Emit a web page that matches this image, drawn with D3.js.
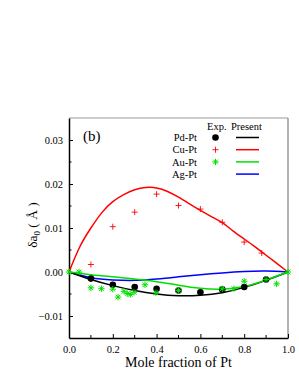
<!DOCTYPE html>
<html>
<head>
<meta charset="utf-8">
<title>delta a0 vs mole fraction of Pt</title>
<script src="https://cdn.jsdelivr.net/npm/d3@7"></script>
<style>
  body { margin: 0; background: #fff; }
  text { font-family: "Liberation Serif", "Times New Roman", serif; }
</style>
</head>
<body>
<script>
// x positions sampled along the calculated curves
var curveX = [0, 0.1, 0.2, 0.3, 0.4, 0.5, 0.6, 0.7, 0.8, 0.9, 1.0];
var pdPresent = [0, -0.0017, -0.0031, -0.0042, -0.0050, -0.0054, -0.0053, -0.0047, -0.0035, -0.0019, 0];
var auPresent = [0, -0.0006, -0.0011, -0.0016, -0.0022, -0.0030, -0.0037, -0.0039, -0.0033, -0.0018, 0];
var agPresent = [0, -0.0013, -0.0018, -0.0019, -0.0016, -0.0011, -0.0006, -0.0002, 0.0001, 0.0002, 0];
var cuX = [0, 0.05, 0.1, 0.15, 0.2, 0.25, 0.3, 0.35, 0.4, 0.45, 0.5, 0.55, 0.6, 0.65, 0.7, 0.75, 0.8, 0.85, 0.9, 0.95, 1.0];
var cuPresent = [0, 0.0058, 0.0100, 0.0135, 0.0160, 0.0176, 0.0187, 0.0192, 0.0191, 0.0183, 0.0170, 0.0155, 0.0140, 0.0126, 0.0112, 0.0093, 0.0075, 0.0057, 0.0038, 0.0019, 0];

// experimental points
var pdExpX = [0.1, 0.2, 0.3, 0.4, 0.5, 0.6, 0.7, 0.8, 0.9];
var pdExpY = [-0.0015, -0.0029, -0.0034, -0.0038, -0.0042, -0.0046, -0.0040, -0.0034, -0.0017];
var cuExpX = [0.1, 0.2, 0.3, 0.4, 0.5, 0.6, 0.7, 0.8, 0.88];
var cuExpY = [0.0017, 0.0103, 0.0136, 0.0177, 0.0151, 0.0143, 0.0113, 0.0068, 0.0043];
var auExpX = [0, 0.046, 0.1, 0.148, 0.2, 0.224, 0.251, 0.266, 0.28, 0.297, 0.347, 0.397, 0.5, 0.7, 0.753, 0.8, 0.9, 0.948, 1.0];
var auExpY = [0, 0, -0.0036, -0.0038, -0.0039, -0.0057, -0.0044, -0.0049, -0.0051, -0.0046, -0.0029, -0.0047, -0.0042, -0.0038, -0.0038, -0.0021, -0.0017, -0.0027, 0];

var xTicks = [0, 0.2, 0.4, 0.6, 0.8, 1.0];
var yTicks = [-0.01, 0, 0.01, 0.02, 0.03];
var seriesNames = ["Pd-Pt", "Cu-Pt", "Au-Pt", "Ag-Pt"];
var seriesColors = ["#000000", "#ff0000", "#00e000", "#0000ff"];

var W = 299, H = 387;
var m = { left: 69, right: 11, top: 118, bottom: 49 };
var serif = "Liberation Serif, Times New Roman, serif";

var svg = d3.select("body").append("svg")
    .attr("width", W)
    .attr("height", H)
    .attr("font-family", serif);

var x = d3.scaleLinear().domain([0, 1]).range([m.left, W - m.right]);
var y = d3.scaleLinear().domain([-0.015, 0.035]).range([H - m.bottom, m.top]);

// frame: top/right grey, left/bottom black
svg.append("line").attr("x1", x(0)).attr("x2", x(1)).attr("y1", y(0.035)).attr("y2", y(0.035))
    .attr("stroke", "#999").attr("stroke-width", 1);
svg.append("line").attr("x1", x(1)).attr("x2", x(1)).attr("y1", y(0.035)).attr("y2", y(-0.015))
    .attr("stroke", "#999").attr("stroke-width", 1.5);

// minor ticks
var g = svg.append("g");
g.selectAll(".xminor").data(d3.range(0.1, 1, 0.2)).enter().append("line")
    .attr("x1", function (d) { return x(d); }).attr("x2", function (d) { return x(d); })
    .attr("y1", y(-0.015)).attr("y2", y(-0.015) - 3)
    .attr("stroke", "#000");
g.selectAll(".yminor").data([-0.005, 0.005, 0.015, 0.025]).enter().append("line")
    .attr("x1", x(0)).attr("x2", x(0) + 2.5)
    .attr("y1", function (d) { return y(d); }).attr("y2", function (d) { return y(d); })
    .attr("stroke", "#000");

var xAxis = d3.axisBottom(x).tickValues(xTicks).tickSizeInner(-4).tickSizeOuter(0).tickPadding(8)
    .tickFormat(d3.format(".1f"));
var yAxis = d3.axisLeft(y).tickValues(yTicks).tickSizeInner(-4).tickSizeOuter(0).tickPadding(6)
    .tickFormat(d3.format(".2f"));

var gx = svg.append("g").attr("transform", "translate(0," + y(-0.015) + ")").call(xAxis);
var gy = svg.append("g").attr("transform", "translate(" + x(0) + ",0)").call(yAxis);
[gx, gy].forEach(function (ax) {
    ax.attr("font-family", serif);
    ax.select(".domain").attr("stroke", "#000").attr("stroke-width", 1.5);
    ax.selectAll("text").attr("font-size", 10.5).attr("fill", "#000");
});
gy.selectAll(".tick text").text(function (d) { return d === 0 ? "0.00" : d3.format(".2f")(d); });

// calculated curves
var line = d3.line()
    .x(function (d) { return x(d[0]); })
    .y(function (d) { return y(d[1]); })
    .curve(d3.curveNatural);

var curves = [
    { xs: curveX, ys: agPresent, c: seriesColors[3] },
    { xs: curveX, ys: pdPresent, c: seriesColors[0] },
    { xs: curveX, ys: auPresent, c: seriesColors[2] },
    { xs: cuX, ys: cuPresent, c: seriesColors[1] }
];
curves.forEach(function (s) {
    svg.append("path")
        .datum(d3.zip(s.xs, s.ys))
        .attr("d", line)
        .attr("fill", "none")
        .attr("stroke", s.c)
        .attr("stroke-width", 1.5);
});

// markers
function starPath(r) {
    var d = r * 0.72;
    return "M" + (-r) + ",0H" + r + "M0," + (-r) + "V" + r +
        "M" + (-d) + "," + (-d) + "L" + d + "," + d + "M" + (-d) + "," + d + "L" + d + "," + (-d);
}
function plusPath(r) {
    return "M" + (-r) + ",0H" + r + "M0," + (-r) + "V" + r;
}

svg.selectAll(".pd").data(d3.zip(pdExpX, pdExpY)).enter().append("circle")
    .attr("cx", function (d) { return x(d[0]); })
    .attr("cy", function (d) { return y(d[1]); })
    .attr("r", 3.3).attr("fill", "#000");

svg.selectAll(".au").data(d3.zip(auExpX, auExpY)).enter().append("path")
    .attr("transform", function (d) { return "translate(" + x(d[0]) + "," + y(d[1]) + ")"; })
    .attr("d", starPath(3.2))
    .attr("stroke", seriesColors[2]).attr("stroke-width", 1).attr("fill", "none");

svg.selectAll(".cu").data(d3.zip(cuExpX, cuExpY)).enter().append("path")
    .attr("transform", function (d) { return "translate(" + x(d[0]) + "," + y(d[1]) + ")"; })
    .attr("d", plusPath(3))
    .attr("stroke", seriesColors[1]).attr("stroke-width", 0.9).attr("fill", "none");

// panel label
svg.append("text").attr("x", 83).attr("y", 141).attr("font-size", 15).text("(b)");

// legend
var lg = svg.append("g").attr("font-size", 10.5);
lg.append("text").attr("x", 207).attr("y", 130).text("Exp.");
lg.append("text").attr("x", 231).attr("y", 130).text("Present");
seriesNames.forEach(function (n, i) {
    var yy = 137.5 + i * 12.2;
    lg.append("text").attr("x", 197).attr("y", yy + 3.6).attr("text-anchor", "end").text(n);
    lg.append("line").attr("x1", 236).attr("x2", 259).attr("y1", yy).attr("y2", yy)
        .attr("stroke", seriesColors[i]).attr("stroke-width", 1.5);
});
lg.append("circle").attr("cx", 215.5).attr("cy", 137.5).attr("r", 3.3).attr("fill", "#000");
lg.append("path").attr("transform", "translate(215.5," + (137.5 + 12.2) + ")").attr("d", plusPath(3))
    .attr("stroke", seriesColors[1]).attr("stroke-width", 0.9);
lg.append("path").attr("transform", "translate(215.5," + (137.5 + 24.4) + ")").attr("d", starPath(3.2))
    .attr("stroke", seriesColors[2]).attr("stroke-width", 1);

// axis titles
svg.append("text").attr("x", x(0.5)).attr("y", 367).attr("text-anchor", "middle")
    .attr("font-size", 14).text("Mole fraction of Pt");

var yl = svg.append("text")
    .attr("transform", "translate(37," + 225 + ") rotate(-90)")
    .attr("text-anchor", "middle").attr("font-size", 13.5);
yl.append("tspan").text("\u03b4a");
yl.append("tspan").attr("font-size", 9).attr("dy", 3).text("0");
yl.append("tspan").attr("dy", -3).text(" ( \u00c5 )");
</script>
</body>
</html>
